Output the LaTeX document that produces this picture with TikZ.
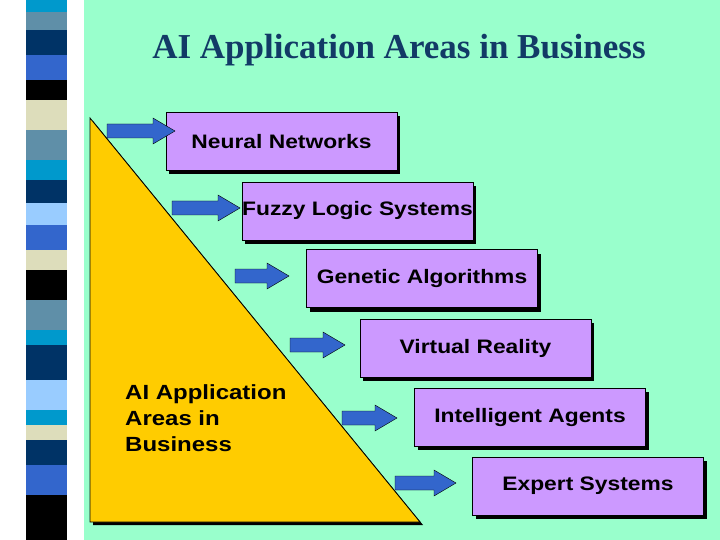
\documentclass[tikz,border=0pt]{standalone}
\usepackage{fontspec}
\setmainfont{Liberation Serif}
\newfontfamily\arial[FakeStretch=1.17]{Liberation Sans}
\usetikzlibrary{shadows}
\definecolor{bg}{HTML}{99FFCC}
\definecolor{boxc}{HTML}{CC99FF}
\definecolor{arr}{HTML}{3366CC}
\definecolor{tri}{HTML}{FFCC00}
\definecolor{ttl}{HTML}{123A66}
\definecolor{s1}{HTML}{0099CC}\definecolor{s2}{HTML}{5F8FA8}\definecolor{s3}{HTML}{003366}
\definecolor{s4}{HTML}{3366CC}\definecolor{s5}{HTML}{DDDDBB}\definecolor{s6}{HTML}{99CCFF}
\tikzset{
 area/.style={draw=black,fill=boxc,line width=0.6pt,minimum width=231pt,minimum height=58pt,
  font=\arial\bfseries\fontsize{19.5}{24}\selectfont,inner sep=0pt,
  drop shadow={shadow xshift=3pt,shadow yshift=-4pt,fill=black,opacity=1}},
 barrow/.style={draw=black,fill=arr,line width=0.4pt}
}
\newcommand\blockarrow[3]{% x1, x2, yc
  \draw[barrow] (#1,#3-7) -- (#2-22,#3-7) -- (#2-22,#3-13) -- (#2,#3) -- (#2-22,#3+13) -- (#2-22,#3+7) -- (#1,#3+7) -- cycle;}
\begin{document}
\begin{tikzpicture}[x=1pt,y=-1pt]
\useasboundingbox (0,0) rectangle (720,540);
\fill[white] (0,0) rectangle (720,540);
\fill[bg] (84,0) rectangle (720,540);
\foreach \a/\b/\c in {0/12/s1,12/30/s2,30/55/s3,55/80/s4,80/100/black,100/130/s5,130/160/s2,160/180/s1,180/203/s3,203/225/s6,225/250/s4,250/270/s5,270/300/black,300/330/s2,330/345/s1,345/380/s3,380/410/s6,410/425/s1,425/440/s5,440/465/s3,465/495/s4,495/540/black}
  \fill[\c] (26,\a) rectangle (67,\b);
\node[font=\bfseries\fontsize{35}{40}\selectfont,text=ttl] (title) at (399,50) {AI Application Areas in Business};
\fill[black] (93,121) -- (93,525) -- (423,525) -- cycle;
\draw[fill=tri,line width=0.8pt] (90,118) -- (90,522) -- (420,522) -- cycle;
\node[align=left,anchor=north west,font=\arial\bfseries\fontsize{20.5}{26}\selectfont,inner sep=0pt] (tri) at (125,384) {AI Application\\Areas in\\Business};
\node[area] (b1) at (281.5,141.5) {Neural Networks};
\node[area] (b2) at (357.5,211) {Fuzzy Logic Systems};
\node[area] (b3) at (422,278.5) {Genetic Algorithms};
\node[area] (b4) at (475.5,348) {Virtual Reality};
\node[area] (b5) at (530,417) {Intelligent Agents};
\node[area] (b6) at (588,486) {Expert Systems};
\blockarrow{107}{175}{131}
\blockarrow{172}{240}{208}
\blockarrow{235}{289}{276}
\blockarrow{290}{345}{345}
\blockarrow{342}{397}{418}
\blockarrow{395}{456}{483}
\end{tikzpicture}
\end{document}
